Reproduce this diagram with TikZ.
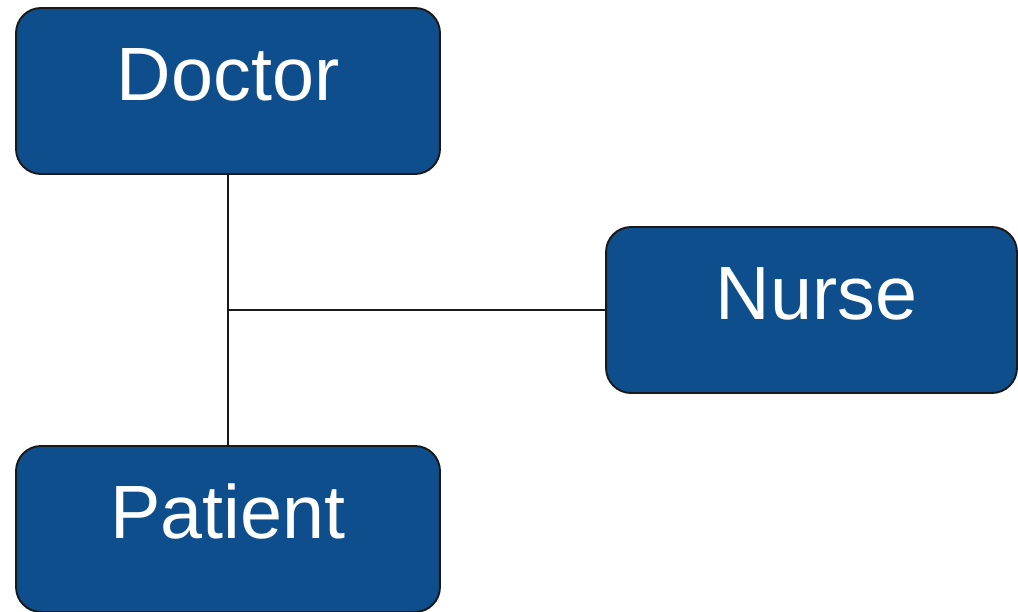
\documentclass[tikz,border=0pt]{standalone}
\usepackage{fontspec}
\setmainfont{Liberation Sans}
\definecolor{staffblue}{RGB}{15,78,140}
\usetikzlibrary{positioning}

\begin{document}
\begin{tikzpicture}[
  x=0.02cm, y=-0.02cm,
  role/.style={rectangle, rounded corners=0.5cm, draw=black!90, line width=1.1pt, fill=staffblue, minimum height=3.32cm, text height=32pt, text depth=21pt, font=\fontsize{43}{50}\selectfont, text=white},
  link/.style={line width=1.1pt, black!90}
]
  \useasboundingbox (0,0) rectangle (1018,612);
  \node[role, minimum width=8.48cm] (doctor) at (228,91) {Doctor};
  \node[role, minimum width=8.22cm] (nurse) at (811.5,310) {\hspace*{0.2cm}Nurse};
  \node[role, minimum width=8.48cm] (patient) at (228,529) {Patient};
  \coordinate (joint) at (doctor.south |- nurse.west);
  \draw[link] (doctor) -- (patient);
  \draw[link] (joint) -- (nurse);
\end{tikzpicture}
\end{document}
